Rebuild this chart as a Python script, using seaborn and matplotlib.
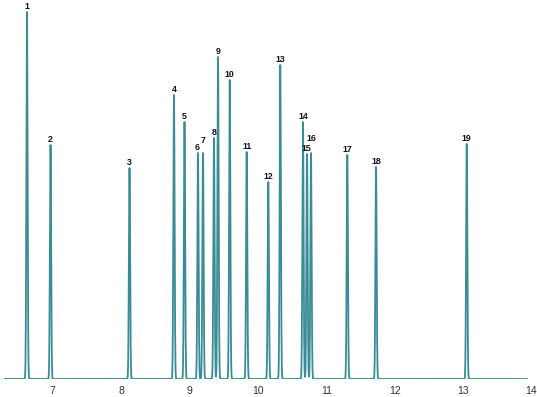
import numpy as np
import pandas as pd
import seaborn as sns
import matplotlib.pyplot as plt

# peak table (retention time, height)
peak_ids = [str(i) for i in range(1, 20)]
peak_rt = [6.624, 6.968, 8.123, 8.773, 8.927, 9.124, 9.197, 9.358, 9.417, 9.588,
           9.836, 10.152, 10.327, 10.659, 10.718, 10.776, 11.307, 11.727, 13.053]
peak_height = [367, 234, 211, 284, 257, 226, 226, 241, 322, 299,
               227, 197, 314, 257, 225, 226, 224, 212, 235]
tick_vals = [7, 8, 9, 10, 11, 12, 13, 14]

SIGMA = 0.009
LINE_COLOR = '#3a8c97'

# a few labels are nudged so they don't collide (dx in x units, dy in px)
label_nudge = {'6': (-0.01, 0), '7': (0.0, 7), '15': (-0.01, 0), '16': (0.01, 9)}

# build the trace from the peak table
t = np.arange(6.288, 13.934, 0.001)
signal = np.zeros_like(t)
for rt, h in zip(peak_rt, peak_height):
    signal += h * np.exp(-0.5 * ((t - rt) / SIGMA) ** 2)
df = pd.DataFrame({'time': t, 'signal': signal})

sns.set_theme(style='white')
plt.rcParams['font.family'] = ['Liberation Sans', 'DejaVu Sans']

fig = plt.figure(figsize=(5.37, 3.97), dpi=100)
ax = fig.add_axes([4 / 537, 18 / 397, 527.5 / 537, 379 / 397])

sns.lineplot(data=df, x='time', y='signal', estimator=None, color=LINE_COLOR,
             linewidth=1.3, ax=ax)

# peak numbers
for name, rt, h in zip(peak_ids, peak_rt, peak_height):
    dx, dy = label_nudge.get(name, (0, 0))
    ax.text(rt + dx, h + 5.5 + dy, name, ha='center', va='center', fontsize=6.3,
            fontweight='bold', color='#111111',
            family=['Liberation Sans Narrow', 'Liberation Sans', 'DejaVu Sans'])

ax.set_xlim(6.288, 14.0)
ax.set_ylim(0, 379)
ax.set_xticks(tick_vals)
ax.set_xticklabels([str(v) for v in tick_vals])
ax.set_yticks([])
ax.set_xlabel('')
ax.set_ylabel('')
ax.tick_params(axis='x', length=0, pad=5, labelsize=7.5, labelcolor='#333333')
for side in ['top', 'right', 'left', 'bottom']:
    ax.spines[side].set_visible(False)

plt.savefig('out.png', dpi=100)
plt.close()
